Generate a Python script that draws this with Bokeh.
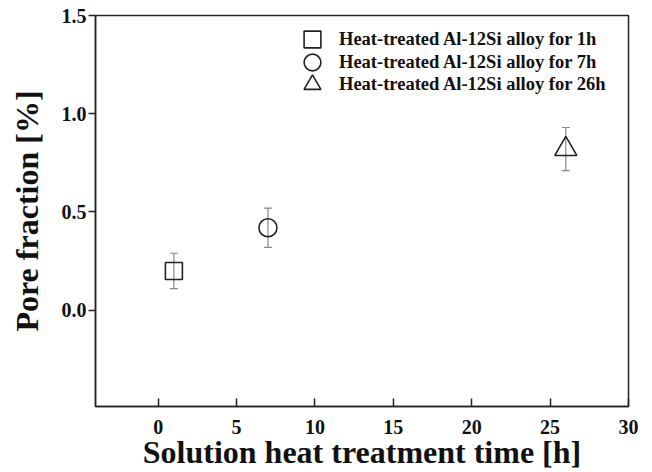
from bokeh.plotting import figure
from bokeh.models import (ColumnDataSource, Whisker, TeeHead, FixedTicker, Legend,
                          LegendItem, Range1d)
from bokeh.embed import file_html
from bokeh.resources import INLINE

# ---- data ----
times = [1, 7, 26]
pore_fraction = [0.20, 0.42, 0.82]
pore_error = [0.09, 0.10, 0.11]
series_labels = ["Heat-treated Al-12Si alloy for 1h",
                 "Heat-treated Al-12Si alloy for 7h",
                 "Heat-treated Al-12Si alloy for 26h"]
x_ticks = [0, 5, 10, 15, 20, 25, 30]
y_ticks = [0.0, 0.5, 1.0, 1.5]
y_tick_labels = ["0.0", "0.5", "1.0", "1.5"]

FONT = "Liberation Serif"
INK = "#222222"

p = figure(width=652, height=472, output_backend="svg", toolbar_location=None,
           x_range=Range1d(-4, 30), y_range=Range1d(-0.49, 1.5),
           min_border_left=95, min_border_right=24, min_border_top=15,
           min_border_bottom=66)
p.background_fill_color = "white"
p.border_fill_color = "white"
p.xgrid.visible = False
p.ygrid.visible = False
p.outline_line_color = INK
p.outline_line_width = 1.5
p.outline_line_alpha = 1

# axes
xa = p.xaxis[0]
xa.ticker = FixedTicker(ticks=x_ticks, minor_ticks=[])
xa.major_tick_in = 8
xa.major_tick_out = 0
xa.minor_tick_in = 0
xa.minor_tick_out = 0
xa.major_label_standoff = 13
xa.axis_label = "Solution heat treatment time [h]"
xa.axis_label_standoff = -3
ya = p.yaxis[0]
ya.ticker = FixedTicker(ticks=y_ticks, minor_ticks=[])
ya.major_label_overrides = {t: l for t, l in zip(y_ticks, y_tick_labels)}
ya.major_tick_in = 0
ya.major_tick_out = 7
ya.minor_tick_in = 0
ya.minor_tick_out = 0
ya.major_label_standoff = 2
ya.axis_label = "Pore fraction [%]"
ya.axis_label_standoff = 14
for ax in (xa, ya):
    ax.axis_line_color = INK
    ax.axis_line_width = 1.5
    ax.major_tick_line_color = INK
    ax.major_tick_line_width = 1.5
    ax.major_label_text_font = FONT
    ax.major_label_text_font_style = "bold"
    ax.major_label_text_font_size = "20px"
    ax.major_label_text_color = "#111111"
    ax.axis_label_text_font = FONT
    ax.axis_label_text_font_style = "bold"
    ax.axis_label_text_font_size = "32px"
    ax.axis_label_text_color = "#111111"

# error bars
src_all = ColumnDataSource(dict(
    x=times, y=pore_fraction,
    upper=[v + e for v, e in zip(pore_fraction, pore_error)],
    lower=[v - e for v, e in zip(pore_fraction, pore_error)]))
whisk = Whisker(source=src_all, base="x", upper="upper", lower="lower",
                line_color="#888888", line_width=1.2,
                upper_head=TeeHead(size=8, line_color="#888888", line_width=1.2),
                lower_head=TeeHead(size=8, line_color="#888888", line_width=1.2))
p.add_layout(whisk)

marker_styles = [("square", 17), ("circle", 18), ("triangle", 22)]
# legend rows: one single-item legend per row (screen offsets from frame bottom-left)
legend_rows_vy = [346, 323, 301]
for i, (mk, sz) in enumerate(marker_styles):
    src = ColumnDataSource(dict(x=[times[i]], y=[pore_fraction[i]]))
    r = p.scatter("x", "y", source=src, marker=mk, size=sz, fill_color=None,
                  line_color=INK, line_width=1.6)
    lg = Legend(items=[LegendItem(label=series_labels[i], renderers=[r])],
                location=(196, legend_rows_vy[i]), orientation="vertical",
                glyph_width=42, glyph_height=42, spacing=0, padding=0, margin=0,
                label_standoff=6, label_text_font=FONT, label_text_font_style="bold",
                label_text_font_size="18.5px", label_text_color="#111111",
                border_line_color=None, background_fill_alpha=0)
    p.add_layout(lg)

open("out.html", "w").write(file_html(p, INLINE))
